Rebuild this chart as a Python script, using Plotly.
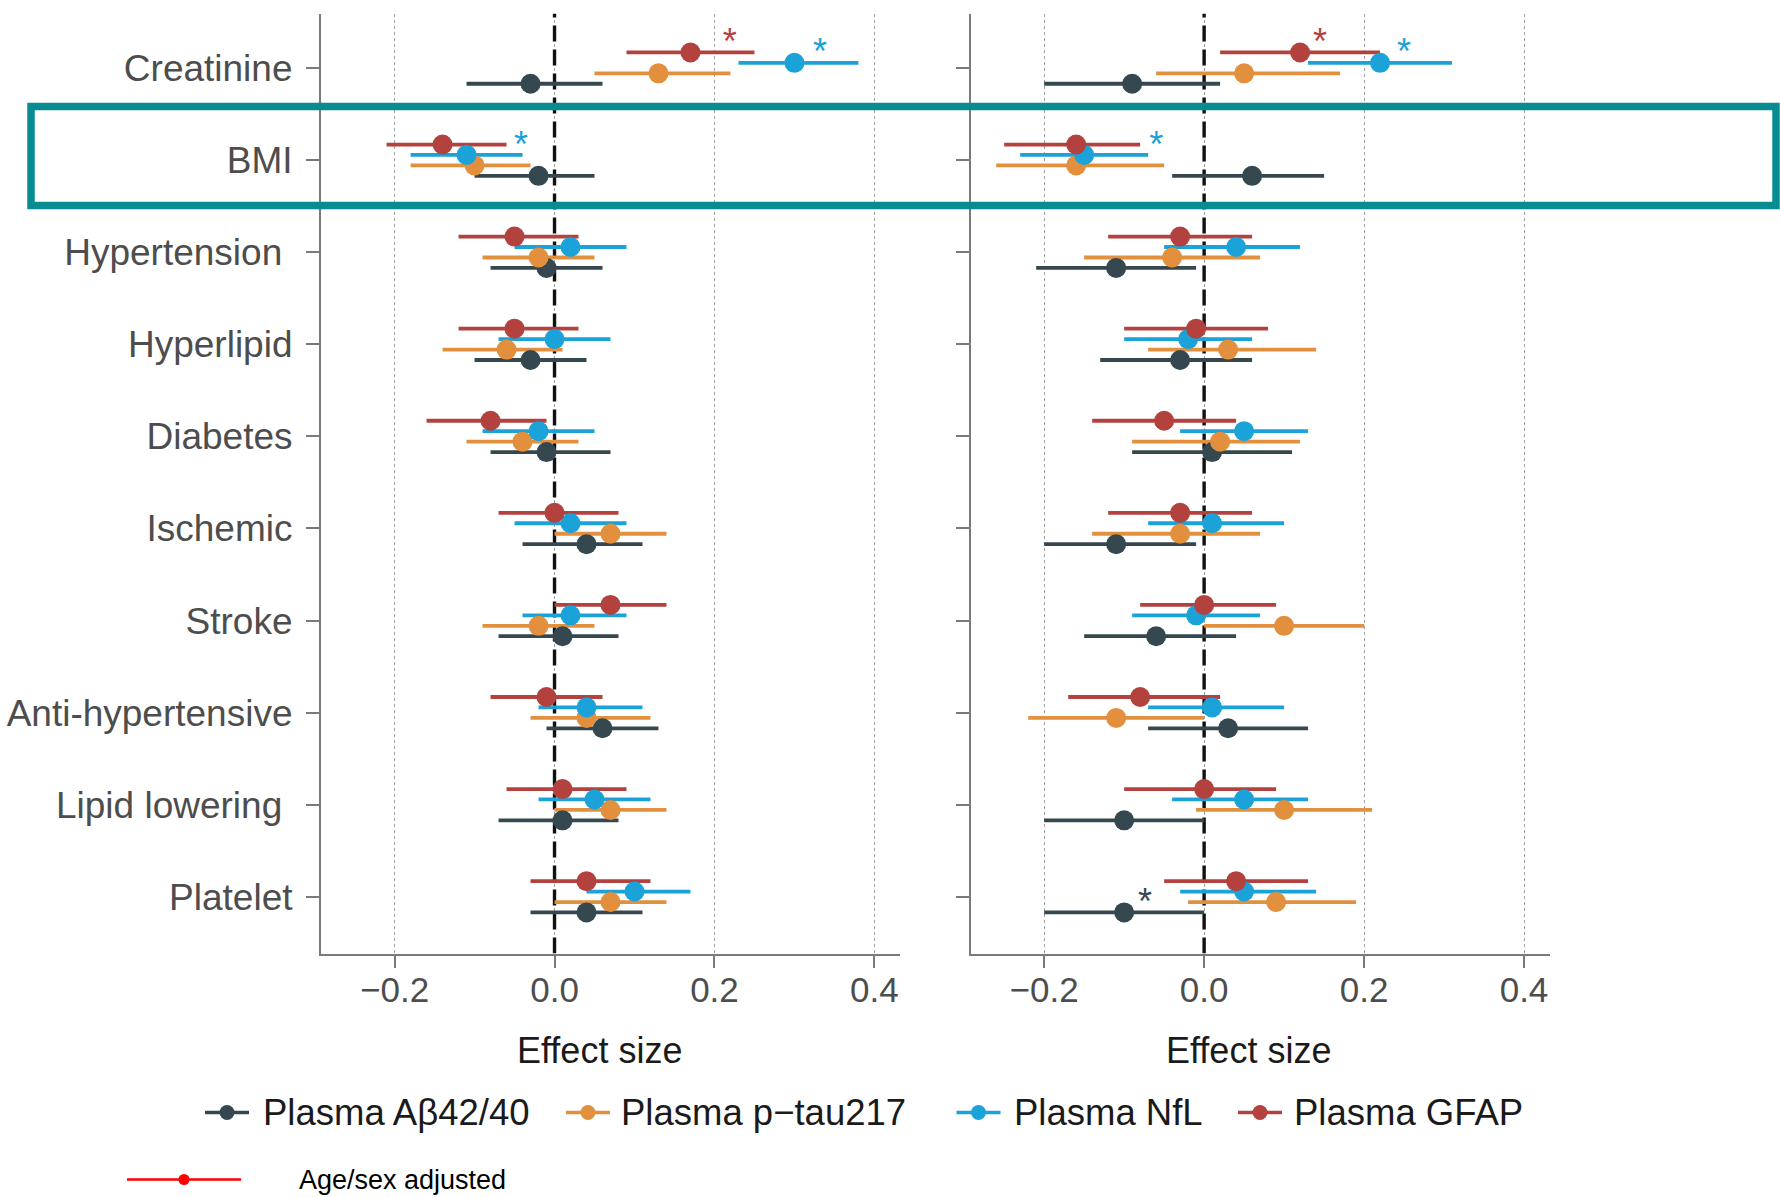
import plotly.graph_objects as go

W, H = 1780, 1197

categories = ["Creatinine", "BMI", "Hypertension\u00a0", "Hyperlipid", "Diabetes", "Ischemic",
              "Stroke", "Anti-hypertensive", "Lipid lowering\u00a0", "Platelet"]
series_names = ["Plasma A\u03b242/40", "Plasma p\u2212tau217", "Plasma NfL", "Plasma GFAP"]
series_colors = ["#35474F", "#E28F3E", "#1BA2D9", "#B3423F"]

# ---- left panel ----
L_ab_est = [-0.03, -0.02, -0.01, -0.03, -0.01, 0.04, 0.01, 0.06, 0.01, 0.04]
L_ab_lo = [-0.11, -0.10, -0.08, -0.10, -0.08, -0.04, -0.07, -0.01, -0.07, -0.03]
L_ab_hi = [0.06, 0.05, 0.06, 0.04, 0.07, 0.11, 0.08, 0.13, 0.08, 0.11]
L_pt_est = [0.13, -0.10, -0.02, -0.06, -0.04, 0.07, -0.02, 0.04, 0.07, 0.07]
L_pt_lo = [0.05, -0.18, -0.09, -0.14, -0.11, 0.00, -0.09, -0.03, 0.00, 0.00]
L_pt_hi = [0.22, -0.03, 0.05, 0.01, 0.03, 0.14, 0.05, 0.12, 0.14, 0.14]
L_nf_est = [0.30, -0.11, 0.02, 0.00, -0.02, 0.02, 0.02, 0.04, 0.05, 0.10]
L_nf_lo = [0.23, -0.18, -0.05, -0.07, -0.09, -0.05, -0.04, -0.02, -0.02, 0.04]
L_nf_hi = [0.38, -0.04, 0.09, 0.07, 0.05, 0.09, 0.09, 0.11, 0.12, 0.17]
L_gf_est = [0.17, -0.14, -0.05, -0.05, -0.08, 0.00, 0.07, -0.01, 0.01, 0.04]
L_gf_lo = [0.09, -0.21, -0.12, -0.12, -0.16, -0.07, 0.00, -0.08, -0.06, -0.03]
L_gf_hi = [0.25, -0.06, 0.03, 0.03, -0.01, 0.08, 0.14, 0.06, 0.09, 0.12]

# ---- right panel ----
R_ab_est = [-0.09, 0.06, -0.11, -0.03, 0.01, -0.11, -0.06, 0.03, -0.10, -0.10]
R_ab_lo = [-0.20, -0.04, -0.21, -0.13, -0.09, -0.20, -0.15, -0.07, -0.20, -0.20]
R_ab_hi = [0.02, 0.15, -0.01, 0.06, 0.11, -0.01, 0.04, 0.13, 0.00, 0.00]
R_pt_est = [0.05, -0.16, -0.04, 0.03, 0.02, -0.03, 0.10, -0.11, 0.10, 0.09]
R_pt_lo = [-0.06, -0.26, -0.15, -0.07, -0.09, -0.14, 0.00, -0.22, -0.01, -0.02]
R_pt_hi = [0.17, -0.05, 0.07, 0.14, 0.12, 0.07, 0.20, 0.00, 0.21, 0.19]
R_nf_est = [0.22, -0.15, 0.04, -0.02, 0.05, 0.01, -0.01, 0.01, 0.05, 0.05]
R_nf_lo = [0.13, -0.23, -0.05, -0.10, -0.03, -0.07, -0.09, -0.07, -0.04, -0.03]
R_nf_hi = [0.31, -0.07, 0.12, 0.06, 0.13, 0.10, 0.07, 0.10, 0.13, 0.14]
R_gf_est = [0.12, -0.16, -0.03, -0.01, -0.05, -0.03, 0.00, -0.08, 0.00, 0.04]
R_gf_lo = [0.02, -0.25, -0.12, -0.10, -0.14, -0.12, -0.08, -0.17, -0.10, -0.05]
R_gf_hi = [0.22, -0.08, 0.06, 0.08, 0.04, 0.06, 0.09, 0.02, 0.09, 0.13]

# significance stars: panel (0 left, 1 right), series index, category index, x position
star_panel = [0, 0, 0, 1, 1, 1, 1]
star_series = [3, 2, 2, 3, 2, 2, 0]
star_cat = [0, 0, 1, 0, 0, 1, 9]
star_x = [0.219, 0.332, -0.042, 0.145, 0.250, -0.060, -0.074]

x_ticks = [-0.2, 0.0, 0.2, 0.4]
x_ticktext = ["\u22120.2", "0.0", "0.2", "0.4"]

panels = [
    [(L_ab_est, L_ab_lo, L_ab_hi), (L_pt_est, L_pt_lo, L_pt_hi),
     (L_nf_est, L_nf_lo, L_nf_hi), (L_gf_est, L_gf_lo, L_gf_hi)],
    [(R_ab_est, R_ab_lo, R_ab_hi), (R_pt_est, R_pt_lo, R_pt_hi),
     (R_nf_est, R_nf_lo, R_nf_hi), (R_gf_est, R_gf_lo, R_gf_hi)],
]

FONT = "Liberation Sans, Arial, Helvetica, sans-serif"
n = len(categories)
cat_pos = [n - i for i in range(n)]          # Creatinine on top
dodge = [-0.17, -0.057, 0.057, 0.17]         # dark, orange, blue, red
draw_order = [0, 1, 2, 3]
XR = [-0.292, 0.432]
YR = [0.383, 10.592]


def px_x(p):
    return p / W


def px_y(p):
    return 1 - p / H


fig = go.Figure()
axes = [("x", "y"), ("x2", "y2")]

for pi, pdata in enumerate(panels):
    xa, ya = axes[pi]
    # dashed zero reference line
    fig.add_trace(go.Scatter(x=[0, 0], y=YR, mode="lines", xaxis=xa, yaxis=ya,
                             line=dict(color="#111111", width=3.4, dash="16px,8px"),
                             showlegend=False, hoverinfo="skip"))
    # CI lines first
    for si in draw_order:
        est, lo, hi = pdata[si]
        xs, ys = [], []
        for ci in range(n):
            yy = cat_pos[ci] + dodge[si]
            xs += [lo[ci], hi[ci], None]
            ys += [yy, yy, None]
        fig.add_trace(go.Scatter(x=xs, y=ys, mode="lines", xaxis=xa, yaxis=ya,
                                 line=dict(color=series_colors[si], width=3.8),
                                 showlegend=False, hoverinfo="skip"))
    # points
    for si in draw_order:
        est, lo, hi = pdata[si]
        fig.add_trace(go.Scatter(x=est, y=[cat_pos[ci] + dodge[si] for ci in range(n)],
                                 mode="markers", xaxis=xa, yaxis=ya,
                                 marker=dict(color=series_colors[si], size=20, line=dict(width=0)),
                                 showlegend=False))
    # stars
    for k in range(len(star_x)):
        if star_panel[k] == pi:
            fig.add_trace(go.Scatter(
                x=[star_x[k]], y=[cat_pos[star_cat[k]] + dodge[star_series[k]] + 0.08],
                mode="text", text=["*"], textposition="middle center", xaxis=xa, yaxis=ya,
                textfont=dict(family=FONT, size=36, color=series_colors[star_series[k]]),
                showlegend=False, hoverinfo="skip"))

# legend overlay axis in pixel coordinates
leg_marker_x = [227, 588, 978.5, 1260]
leg_text_x = [261, 619, 1011.5, 1292]
leg_y = 1112.5
for si in range(4):
    fig.add_trace(go.Scatter(x=[leg_marker_x[si] - 22, leg_marker_x[si] + 22], y=[leg_y, leg_y],
                             mode="lines", xaxis="x3", yaxis="y3",
                             line=dict(color=series_colors[si], width=3.6),
                             showlegend=False, hoverinfo="skip"))
    fig.add_trace(go.Scatter(x=[leg_marker_x[si]], y=[leg_y], mode="markers", xaxis="x3", yaxis="y3",
                             marker=dict(color=series_colors[si], size=15),
                             showlegend=False, hoverinfo="skip"))
    fig.add_annotation(x=px_x(leg_text_x[si]), y=px_y(leg_y), xref="paper", yref="paper",
                       text=series_names[si], showarrow=False, xanchor="left", yanchor="middle",
                       font=dict(family=FONT, size=36.5, color="#1a1a1a"))

# age/sex adjusted key
fig.add_trace(go.Scatter(x=[127, 241], y=[1179.5, 1179.5], mode="lines", xaxis="x3", yaxis="y3",
                         line=dict(color="#ff0000", width=2.5), showlegend=False, hoverinfo="skip"))
fig.add_trace(go.Scatter(x=[184], y=[1179.5], mode="markers", xaxis="x3", yaxis="y3",
                         marker=dict(color="#ff0000", size=11), showlegend=False, hoverinfo="skip"))
fig.add_annotation(x=px_x(297), y=px_y(1179.5), xref="paper", yref="paper",
                   text="Age/sex adjusted", showarrow=False, xanchor="left", yanchor="middle",
                   font=dict(family=FONT, size=27, color="#000000"))

# Effect size titles
for cx in [599.4, 1248.7]:
    fig.add_annotation(x=px_x(cx), y=px_y(1050), xref="paper", yref="paper",
                       text="Effect size", showarrow=False, xanchor="center", yanchor="middle",
                       font=dict(family=FONT, size=36, color="#1a1a1a"))

ydom = [px_y(953.6), px_y(13.6)]
common_x = dict(range=XR, tickvals=x_ticks, ticktext=x_ticktext, showgrid=True,
                gridcolor="#a0a0a0", gridwidth=1, griddash="dot", zeroline=False,
                showline=True, linecolor="#7a7a7a", linewidth=2.2, ticks="outside",
                ticklen=12, tickwidth=2, tickcolor="#7a7a7a", ticklabelstandoff=-8,
                tickfont=dict(family=FONT, size=35, color="#4d4d4d"), fixedrange=True)
common_y = dict(range=YR, tickvals=cat_pos, ticktext=categories, showgrid=False, zeroline=False,
                showline=True, linecolor="#7a7a7a", linewidth=2.2, ticks="outside",
                ticklen=13, tickwidth=2, tickcolor="#7a7a7a", ticklabelstandoff=6,
                tickfont=dict(family=FONT, size=37, color="#4d4d4d"), domain=ydom, fixedrange=True)

fig.update_layout(
    width=W, height=H, margin=dict(l=0, r=0, t=0, b=0),
    paper_bgcolor="white", plot_bgcolor="rgba(0,0,0,0)", showlegend=False,
    xaxis=dict(domain=[px_x(321), px_x(900)], anchor="y", **common_x),
    yaxis=dict(anchor="x", **common_y),
    xaxis2=dict(domain=[px_x(970.6), px_x(1549.6)], anchor="y2", **common_x),
    yaxis2=dict(anchor="x2", showticklabels=False, **common_y),
    xaxis3=dict(domain=[0, 1], range=[0, W], visible=False, anchor="y3", fixedrange=True),
    yaxis3=dict(domain=[0, 1], range=[H, 0], visible=False, anchor="x3", fixedrange=True),
)

# teal highlight box around BMI row
fig.add_shape(type="rect", xref="paper", yref="paper",
              x0=px_x(31), x1=px_x(1776), y0=px_y(205.5), y1=px_y(106.5),
              line=dict(color="#078D91", width=7.5), fillcolor="rgba(0,0,0,0)", layer="above")

fig.write_html("out.html", config={"displayModeBar": False},
               post_script="document.body.style.margin='0';document.body.style.overflow='hidden';")
